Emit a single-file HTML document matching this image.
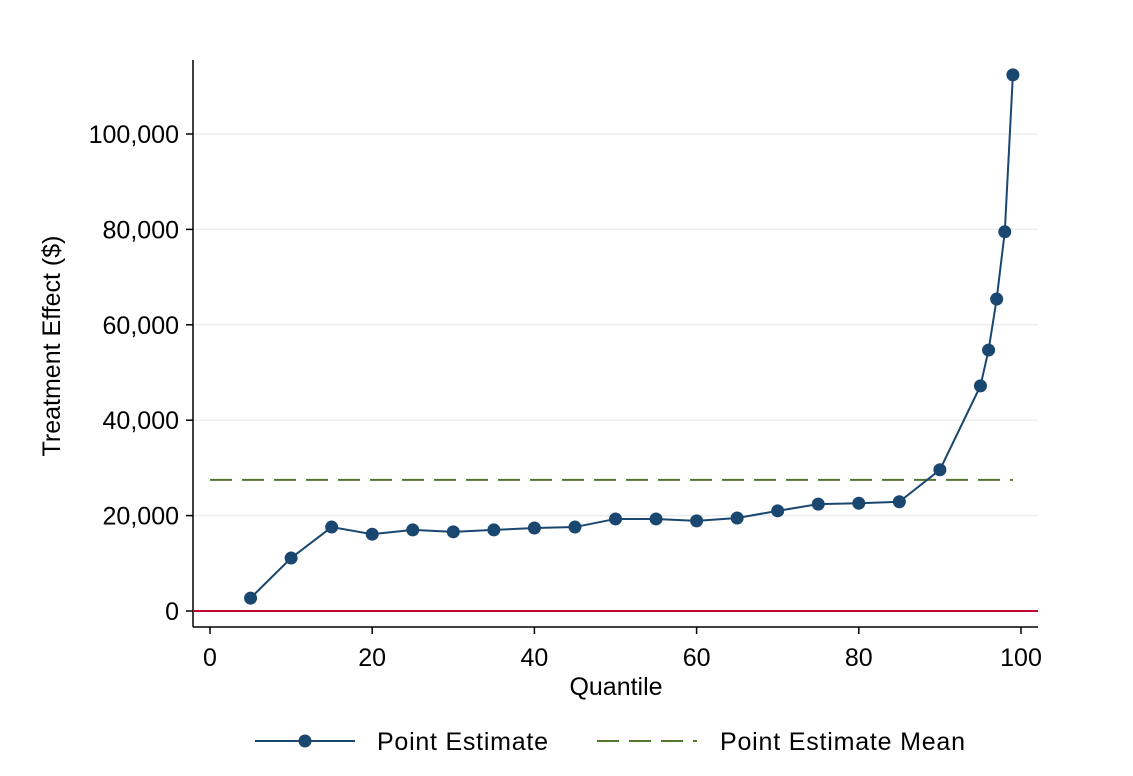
<!DOCTYPE html>
<html><head><meta charset="utf-8"><style>
body{margin:0;background:#fff;font-family:"Liberation Sans",sans-serif}
</style></head><body>
<svg width="1133" height="771" font-family="Liberation Sans, sans-serif">
<rect width="1133" height="771" fill="#fff"/>
<g id="grid"></g>
<g id="axes"></g>
<g id="marks"></g>
<text x="616" y="695" font-size="25" text-anchor="middle">Quantile</text>
<text transform="translate(60,346) rotate(-90)" font-size="25" text-anchor="middle">Treatment Effect ($)</text>
<g>
<g>
<line x1="255" y1="741" x2="355" y2="741" stroke="#1a476f" stroke-width="2"/>
<circle cx="305" cy="741" r="6.5" fill="#1a476f"/>
<text x="377" y="750" font-size="25" textLength="171">Point Estimate</text></g>
<g>
<line x1="597" y1="741" x2="697" y2="741" stroke="#55752f" stroke-width="2" stroke-dasharray="22,10"/>
<text x="720" y="750" font-size="25" textLength="245">Point Estimate Mean</text></g>
</g>
</svg>
<script>
const quantiles=[5,10,15,20,25,30,35,40,45,50,55,60,65,70,75,80,85,90,95,96,97,98,99];
const estimates=[2700,11100,17600,16100,17000,16600,17000,17400,17600,19300,19300,18900,19500,21000,22400,22600,22900,29600,47200,54700,65400,79500,112400];
const meanValue=27500;
const meanRange=[0,99];
const xTicks=[0,20,40,60,80,100];
const yTicks=[0,20000,40000,60000,80000,100000];
const ns="http://www.w3.org/2000/svg";
const X=v=>210+v*8.11, Y=v=>611-v*0.00477;
function mk(t,a,p){const e=document.createElementNS(ns,t);for(const k in a)e.setAttribute(k,a[k]);p.appendChild(e);return e;}
const grid=document.getElementById('grid'),axes=document.getElementById('axes'),marks=document.getElementById('marks');
yTicks.forEach(v=>{if(v>0){const g=mk('line',{x1:193,x2:1038,y1:Y(v),y2:Y(v),stroke:'#eaeef1','stroke-width':1.5},grid);}
mk('line',{x1:186,x2:193,y1:Y(v),y2:Y(v),stroke:'#000','stroke-width':1.5},axes);
const l=mk('text',{x:179,y:Y(v)+9,'font-size':25,'text-anchor':'end'},axes);l.textContent=v.toLocaleString('en-US');
});
xTicks.forEach(v=>{mk('line',{x1:X(v),x2:X(v),y1:627,y2:634,stroke:'#000','stroke-width':1.5},axes);
const l=mk('text',{x:X(v),y:666,'font-size':25,'text-anchor':'middle'},axes);l.textContent=v;
});
mk('line',{x1:193,x2:193,y1:60,y2:627,stroke:'#000','stroke-width':1.5},axes);
mk('line',{x1:193,x2:1038,y1:627,y2:627,stroke:'#000','stroke-width':1.5},axes);
const z=mk('line',{x1:193,x2:1038,y1:Y(0),y2:Y(0),stroke:'#c10534','stroke-width':2},marks);

const m=mk('line',{x1:X(meanRange[0]),x2:X(meanRange[1]),y1:Y(meanValue),y2:Y(meanValue),stroke:'#55752f','stroke-width':2,'stroke-dasharray':'22,10'},marks);

const p=mk('polyline',{points:quantiles.map((q,i)=>X(q)+','+Y(estimates[i])).join(' '),fill:'none',stroke:'#1a476f','stroke-width':2},marks);

quantiles.forEach((q,i)=>{const c=mk('circle',{cx:X(q),cy:Y(estimates[i]),r:6.5,fill:'#1a476f'},marks);
});
</script>
</body></html>
